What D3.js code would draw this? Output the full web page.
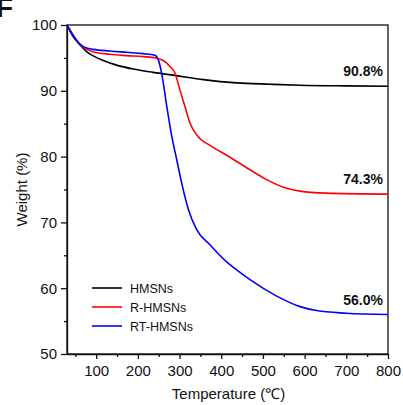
<!DOCTYPE html>
<html lang="en">
<head>
<meta charset="UTF-8">
<title>TGA curves</title>
<style>
body{ margin:0; background:#fff; }
svg text{ font-family:"Liberation Sans", Arial, sans-serif; fill:#111; }
.axis path, .axis line{ stroke:#111; stroke-width:1.3px; }
.axis text{ font-size:15px; }
.frame{ fill:none; stroke:#111; stroke-width:1.3px; }
.curve{ fill:none; stroke-width:1.6px; }
.endlabel{ font-size:14px; font-weight:bold; text-anchor:end; }
</style>
</head>
<body>
<script src="https://cdn.jsdelivr.net/npm/d3@7"></script>
<script>
// temperatures (°C) and weight (%)
var hmsnsT = [30, 45, 61, 77, 93, 117, 149, 189, 237, 293, 357, 437, 517, 589, 700, 800];
var hmsnsW = [100, 98.2, 97.0, 95.95, 95.3, 94.6, 93.9, 93.3, 92.8, 92.3, 91.7, 91.2, 91.0, 90.85, 90.75, 90.7];

var rT = [30, 45, 61, 93, 133, 173, 213, 245, 261, 277, 289, 301, 313, 325, 341, 373, 413, 469, 509, 549, 589, 650, 800];
var rW = [100, 98.4, 97.0, 95.95, 95.55, 95.35, 95.2, 94.95, 94.6, 93.7, 92.7, 90.1, 87.6, 85.1, 83.3, 81.7, 80.2, 78.0, 76.5, 75.35, 74.75, 74.45, 74.3];

var rtT = [30, 45, 61, 73, 93, 133, 173, 213, 241, 249, 257, 269, 281, 293, 305, 321, 341, 373, 413, 441, 469, 533, 589, 629, 700, 800];
var rtW = [100, 98.4, 97.1, 96.6, 96.3, 96.05, 95.85, 95.65, 95.4, 94.7, 92.7, 87.8, 83.2, 79.6, 76.0, 72.0, 68.9, 66.6, 64.0, 62.6, 61.3, 58.8, 57.2, 56.6, 56.2, 56.0];

var seriesNames  = ["HMSNs", "R-HMSNs", "RT-HMSNs"];
var seriesColors = ["#000000", "#ff0000", "#0000ff"];
var finalLabels  = ["90.8%", "74.3%", "56.0%"];

var xTicks = [100, 200, 300, 400, 500, 600, 700, 800];
var xMinor = [50, 150, 250, 350, 450, 550, 650, 750];
var yTicks = [50, 60, 70, 80, 90, 100];
var yMinor = [55, 65, 75, 85, 95];

var W = 403, H = 405;
var m = {left:67, right:15, top:25, bottom:51};

var svg = d3.select("body").append("svg").attr("width", W).attr("height", H);

var x = d3.scaleLinear().domain([30, 800]).range([m.left, W - m.right]);
var y = d3.scaleLinear().domain([50, 100]).range([H - m.bottom, m.top]);

// minor ticks
svg.append("g").attr("class", "axis")
	.attr("transform", "translate(0," + (H - m.bottom) + ")")
	.call(d3.axisBottom(x).tickValues(xMinor).tickSize(3).tickFormat(""))
	.select(".domain").remove();
svg.append("g").attr("class", "axis")
	.attr("transform", "translate(" + m.left + ",0)")
	.call(d3.axisLeft(y).tickValues(yMinor).tickSize(3).tickFormat(""))
	.select(".domain").remove();

// major ticks
svg.append("g").attr("class", "axis")
	.attr("transform", "translate(0," + (H - m.bottom) + ")")
	.call(d3.axisBottom(x).tickValues(xTicks).tickSize(5).tickPadding(6).tickSizeOuter(0));
svg.append("g").attr("class", "axis")
	.attr("transform", "translate(" + m.left + ",0)")
	.call(d3.axisLeft(y).tickValues(yTicks).tickSize(6).tickPadding(4).tickSizeOuter(0));

svg.append("rect").attr("class", "frame")
	.attr("x", m.left).attr("y", m.top)
	.attr("width", W - m.right - m.left).attr("height", H - m.bottom - m.top);

var line = d3.line()
	.x(function(d){ return x(d[0]); })
	.y(function(d){ return y(d[1]); })
	.curve(d3.curveMonotoneX);

var allT = [hmsnsT, rT, rtT], allW = [hmsnsW, rW, rtW];
allT.forEach(function(ts, i){
	svg.append("path").attr("class", "curve")
		.attr("stroke", seriesColors[i])
		.attr("d", line(d3.zip(ts, allW[i])));
});

// end-value labels
var labelY = [90.8, 74.3, 56.0];
finalLabels.forEach(function(t, i){
	svg.append("text").attr("class", "endlabel")
		.attr("x", x(800) - 5).attr("y", y(labelY[i]) - 10)
		.text(t);
});

// legend
var lg = svg.append("g").attr("transform", "translate(92,288)");
seriesNames.forEach(function(n, i){
	lg.append("line").attr("x1", 0).attr("x2", 30)
		.attr("y1", i * 19).attr("y2", i * 19)
		.attr("stroke", seriesColors[i]).attr("stroke-width", 1.6);
	lg.append("text").attr("x", 38).attr("y", i * 19 + 4.5)
		.style("font-size", "12.5px").text(n);
});

// axis titles
svg.append("text").attr("text-anchor", "middle")
	.attr("x", (m.left + W - m.right) / 2 + 1).attr("y", H - 6)
	.style("font-size", "15px").text("Temperature (\u2103)");
svg.append("text").attr("text-anchor", "middle")
	.attr("transform", "translate(27," + ((m.top + H - m.bottom) / 2) + ") rotate(-90)")
	.style("font-size", "15px").text("Weight (%)");

// panel letter, clipped at the corner like in the source figure
svg.append("text").attr("x", -4).attr("y", 17)
	.style("font-size", "28px").style("font-weight", "bold").text("F");
</script>
</body>
</html>
